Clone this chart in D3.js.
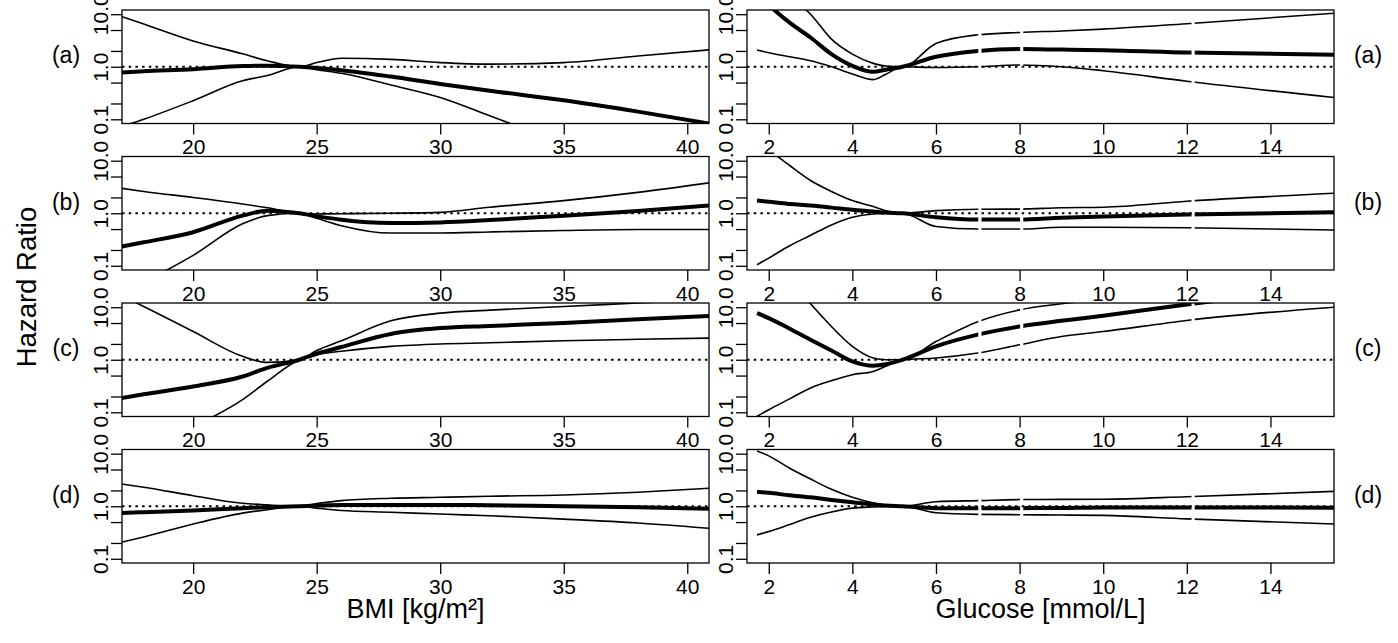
<!DOCTYPE html>
<html>
<head>
<meta charset="utf-8">
<script src="https://d3js.org/d3.v7.min.js"></script>
<style>
  body { margin: 0; background: #fff; }
  svg { display: block; }
  text { font-family: "Liberation Sans", Arial, sans-serif; fill: #000; }
</style>
</head>
<body>
<script>
// ---- data ----
const bmiX = [17.1, 18, 20, 22, 23, 24.3, 25, 26, 28, 30, 32, 35, 38, 40.9];
const glucoseX = [1.72, 2, 2.5, 3, 3.5, 4, 4.5, 4.8, 5.2, 6, 7, 8, 9, 10, 12, 15.52];

const panelLabels = ["(a)", "(b)", "(c)", "(d)"];
const bmiTicks = [20, 25, 30, 35, 40];
const glucoseTicks = [2, 4, 6, 8, 10, 12, 14];
const yTicks = [0.1, 0.2, 0.5, 1, 2, 5, 10];
const yTickLabels = { 0.1: "0.1", 1: "1.0", 10: "10.0" };
const glucoseGaps = [7.05, 8.05, 12.15];

// BMI: hazard ratio, lower and upper bound
const bmiHrA = [0.78, 0.82, 0.9, 1.03, 1.05, 1.0, 0.95, 0.86, 0.65, 0.47, 0.35, 0.23, 0.14, 0.083];
const bmiLoA = [0.072, 0.1, 0.226, 0.54, 0.68, 1.0, 0.88, 0.75, 0.45, 0.26, 0.117, 0.035, 0.011, 0.004];
const bmiHiA = [9.0, 6.5, 3.1, 1.76, 1.3, 1.0, 1.2, 1.45, 1.38, 1.2, 1.12, 1.2, 1.6, 2.1];

const bmiHrB = [0.233, 0.28, 0.436, 0.9, 1.12, 1.0, 0.88, 0.75, 0.65, 0.67, 0.74, 0.9, 1.1, 1.4];
const bmiLoB = [0.028, 0.048, 0.158, 0.63, 0.9, 1.0, 0.8, 0.58, 0.42, 0.42, 0.44, 0.47, 0.49, 0.49];
const bmiHiB = [2.98, 2.6, 2.0, 1.5, 1.27, 1.0, 0.97, 0.98, 1.0, 1.04, 1.3, 1.74, 2.5, 3.8];

const bmiHrC = [0.187, 0.22, 0.31, 0.48, 0.7, 1.0, 1.3, 1.75, 3.1, 4.0, 4.4, 5.0, 5.9, 6.8];
const bmiLoC = [0.009, 0.016, 0.052, 0.174, 0.39, 1.0, 1.25, 1.45, 1.8, 2.0, 2.1, 2.3, 2.45, 2.58];
const bmiHiC = [16.6, 10.3, 3.44, 1.16, 0.89, 1.0, 1.5, 2.3, 5.5, 7.7, 8.8, 10.3, 12, 14];

const bmiHrD = [0.74, 0.77, 0.83, 0.92, 0.96, 1.0, 1.03, 1.06, 1.06, 1.06, 1.05, 1.0, 0.96, 0.9];
const bmiLoD = [0.207, 0.26, 0.46, 0.74, 0.86, 1.0, 0.92, 0.83, 0.77, 0.71, 0.66, 0.57, 0.48, 0.38];
const bmiHiD = [2.65, 2.3, 1.59, 1.14, 1.06, 1.0, 1.12, 1.28, 1.42, 1.48, 1.55, 1.64, 1.85, 2.2];

// Glucose: hazard ratio, lower and upper bound
const gluHrA = [25, 15, 6.9, 3.6, 1.74, 1.04, 0.8, 0.88, 1.0, 1.55, 2.0, 2.17, 2.12, 2.07, 1.87, 1.69];
const gluLoA = [2.07, 1.85, 1.55, 1.3, 1.0, 0.73, 0.57, 0.72, 1.0, 0.97, 1.0, 1.08, 1.0, 0.84, 0.53, 0.26];
const gluHiA = [90, 55, 22, 10, 3.35, 1.74, 1.16, 1.03, 1.0, 2.77, 4.05, 4.5, 4.8, 5.2, 6.6, 10.4];

const gluHrB = [1.74, 1.65, 1.5, 1.4, 1.28, 1.16, 1.08, 1.03, 1.0, 0.84, 0.76, 0.76, 0.82, 0.87, 0.95, 1.04];
const gluLoB = [0.105, 0.14, 0.24, 0.38, 0.6, 0.84, 0.97, 0.99, 1.0, 0.56, 0.5, 0.5, 0.54, 0.54, 0.53, 0.48];
const gluHiB = [23, 16, 8.1, 4.2, 2.6, 1.74, 1.34, 1.12, 1.0, 1.12, 1.19, 1.2, 1.27, 1.3, 1.69, 2.4];

const gluHrC = [7.7, 6.2, 3.9, 2.4, 1.5, 0.93, 0.77, 0.82, 1.0, 1.8, 3.0, 4.3, 5.5, 6.9, 11.3, 25];
const gluLoC = [0.084, 0.112, 0.18, 0.29, 0.4, 0.52, 0.6, 0.75, 1.0, 1.08, 1.34, 1.93, 2.77, 3.44, 5.6, 10];
const gluHiC = [200, 120, 35, 11.6, 4.3, 1.8, 1.08, 1.0, 1.0, 2.22, 5.3, 8.9, 11.6, 14, 20, 30];

const gluHrD = [1.89, 1.8, 1.62, 1.48, 1.32, 1.19, 1.08, 1.03, 1.0, 0.92, 0.92, 0.92, 0.93, 0.95, 0.95, 0.94];
const gluLoD = [0.285, 0.33, 0.45, 0.62, 0.78, 0.92, 0.97, 0.99, 1.0, 0.75, 0.7, 0.69, 0.68, 0.67, 0.575, 0.46];
const gluHiD = [11.3, 9.1, 5.3, 3.3, 2.1, 1.48, 1.16, 1.06, 1.0, 1.22, 1.28, 1.34, 1.35, 1.36, 1.52, 1.92];

// ---- layout ----
const WIDTH = 1398;
const HEIGHT = 643;
const PANEL_H = 113.5;
const TOPS = [10, 156.5, 303, 449.5];

const bmiRows = [[bmiHrA, bmiLoA, bmiHiA], [bmiHrB, bmiLoB, bmiHiB], [bmiHrC, bmiLoC, bmiHiC], [bmiHrD, bmiLoD, bmiHiD]];
const gluRows = [[gluHrA, gluLoA, gluHiA], [gluHrB, gluLoB, gluHiB], [gluHrC, gluLoC, gluHiC], [gluHrD, gluLoD, gluHiD]];

const columns = [
  { name: "bmi", xs: bmiX, rows: bmiRows, ticks: bmiTicks, gaps: [],
    scale: d3.scaleLinear().domain([17.12, 40.88]).range([122, 709]) },
  { name: "glu", xs: glucoseX, rows: gluRows, ticks: glucoseTicks, gaps: glucoseGaps,
    scale: d3.scaleLinear().domain([1.48, 15.52]).range([747, 1334]) }
];

const svg = d3.select("body").append("svg")
  .attr("width", WIDTH)
  .attr("height", HEIGHT);

const defs = svg.append("defs");

columns.forEach((col, ci) => {
  const x = col.scale;
  const [x0, x1] = x.range();

  col.rows.forEach((series, ri) => {
    const top = TOPS[ri];
    const y = d3.scaleLog()
      .domain([Math.pow(10, -1.08), Math.pow(10, 1.08)])
      .range([top + PANEL_H, top]);

    // clip to the plot box, leaving small breaks where the glucose curves are interrupted
    const clipId = `clip-${col.name}-${ri}`;
    const edges = [x0];
    col.gaps.forEach(g => { edges.push(x(g) - 1.6, x(g) + 1.6); });
    edges.push(x1);
    const cp = defs.append("clipPath").attr("id", clipId);
    for (let i = 0; i < edges.length; i += 2) {
      cp.append("rect")
        .attr("x", edges[i]).attr("y", top)
        .attr("width", edges[i + 1] - edges[i]).attr("height", PANEL_H);
    }

    const g = svg.append("g");

    // reference line at HR = 1
    g.append("line")
      .attr("x1", x0).attr("x2", x1)
      .attr("y1", y(1)).attr("y2", y(1))
      .attr("stroke", "#000")
      .attr("stroke-width", 1.8)
      .attr("stroke-dasharray", "2.5,4.2");

    const line = d3.line()
      .x((d, i) => x(col.xs[i]))
      .y(d => y(d))
      .curve(d3.curveMonotoneX);

    const curves = g.append("g").attr("clip-path", `url(#${clipId})`);
    // confidence bounds
    [series[1], series[2]].forEach(vals => {
      curves.append("path")
        .attr("d", line(vals))
        .attr("fill", "none")
        .attr("stroke", "#000")
        .attr("stroke-width", 1.6);
    });
    // hazard ratio
    curves.append("path")
      .attr("d", line(series[0]))
      .attr("fill", "none")
      .attr("stroke", "#000")
      .attr("stroke-width", 4);

    // frame
    g.append("rect")
      .attr("x", x0).attr("y", top)
      .attr("width", x1 - x0).attr("height", PANEL_H)
      .attr("fill", "none")
      .attr("stroke", "#000")
      .attr("stroke-width", 1.3);

    // y axis
    const ya = g.append("g")
      .attr("transform", `translate(${x0},0)`)
      .call(d3.axisLeft(y)
        .tickValues(yTicks)
        .tickSize(11)
        .tickSizeOuter(0)
        .tickFormat(d => yTickLabels[d] || ""));
    ya.select(".domain").remove();
    ya.selectAll("line").attr("stroke-width", 1.3);
    ya.selectAll("text")
      .attr("transform", "rotate(-90)")
      .attr("x", 0)
      .attr("y", -14.5)
      .attr("dy", null)
      .attr("text-anchor", "middle")
      .style("font-size", "21px");

    // x axis
    const xa = g.append("g")
      .attr("transform", `translate(0,${top + PANEL_H})`)
      .call(d3.axisBottom(x)
        .tickValues(col.ticks)
        .tickSize(11)
        .tickPadding(5)
        .tickSizeOuter(0));
    xa.select(".domain").remove();
    xa.selectAll("line").attr("stroke-width", 1.3);
    xa.selectAll("text").style("font-size", "21px");

    // panel letter
    svg.append("text")
      .attr("x", ci === 0 ? 66 : 1368)
      .attr("y", top + 45)
      .attr("dy", "0.35em")
      .attr("text-anchor", "middle")
      .style("font-size", "23px")
      .text(panelLabels[ri]);
  });
});

// axis titles
svg.append("text")
  .attr("transform", "translate(36,287) rotate(-90)")
  .attr("text-anchor", "middle")
  .style("font-size", "27.5px")
  .text("Hazard Ratio");

svg.append("text")
  .attr("x", 415.5).attr("y", 618)
  .attr("text-anchor", "middle")
  .style("font-size", "27px")
  .text("BMI [kg/m²]");

svg.append("text")
  .attr("x", 1040.5).attr("y", 618)
  .attr("text-anchor", "middle")
  .style("font-size", "27px")
  .text("Glucose [mmol/L]");
</script>
</body>
</html>
